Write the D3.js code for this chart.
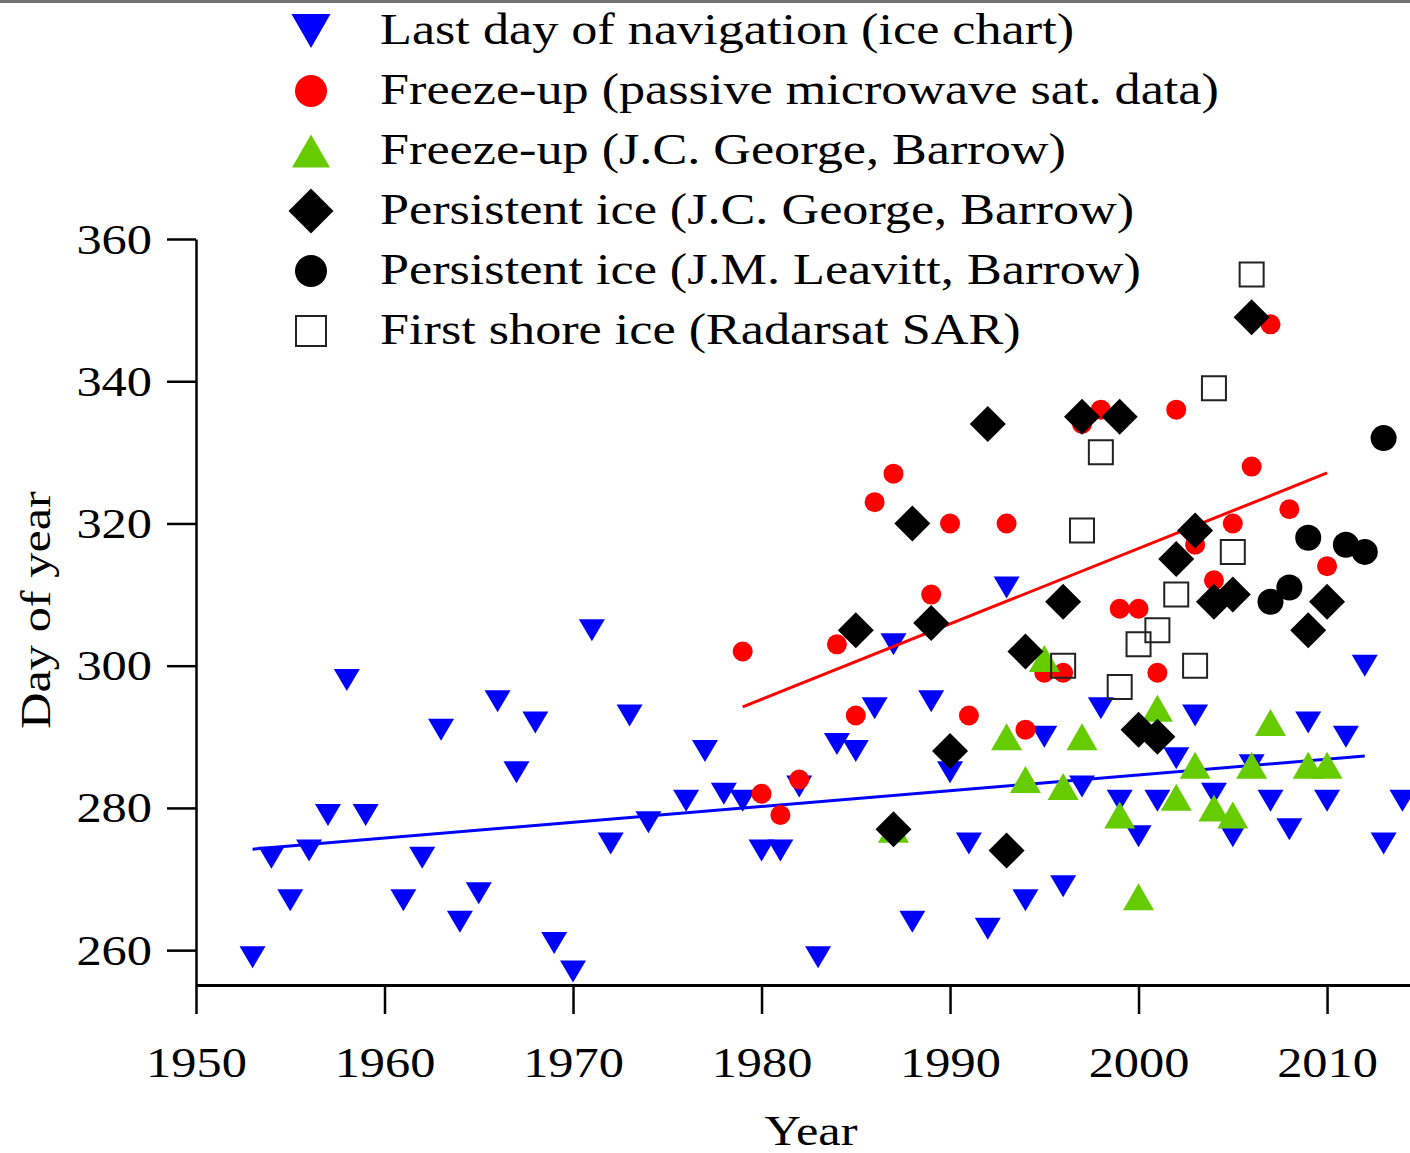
<!DOCTYPE html>
<html>
<head>
<meta charset="utf-8">
<script src="https://cdn.jsdelivr.net/npm/d3@7/dist/d3.min.js"></script>
<style>
  html, body { margin: 0; padding: 0; background: #fff; }
  svg { display: block; }
  text { font-family: "Liberation Serif", "Times New Roman", serif; fill: #000; }
</style>
</head>
<body>
<script>
// ---------------- DATA ----------------
const navYears = [1953,1954,1955,1956,1957,1958,1959,1961,1962,1963,1964,1965,1966,1967,1968,1969,1970,1971,1972,1973,1974,1976,1977,1978,1979,1980,1981,1982,1983,1984,1985,1986,1987,1988,1989,1990,1991,1992,1993,1994,1995,1996,1997,1998,1999,2000,2001,2002,2003,2004,2005,2006,2007,2008,2009,2010,2011,2012,2013,2014];
const navDays = [259,273,267,274,279,298,279,267,273,291,264,268,295,285,292,261,257,305,275,293,278,281,288,282,281,274,274,283,259,289,288,294,303,264,295,285,275,263,311,267,290,269,283,294,281,276,281,287,293,282,276,286,281,277,292,281,290,300,275,281];

const pmYears = [1979,1980,1981,1982,1984,1985,1986,1987,1989,1990,1991,1993,1994,1995,1996,1997,1998,1999,2000,2001,2002,2003,2004,2005,2006,2007,2008,2010];
const pmDays = [302,282,279,284,303,293,323,327,310,320,293,320,291,299,299,334,336,308,308,299,336,317,312,320,328,348,322,314];

const jcgFreezeYears = [1987,1993,1994,1995,1996,1997,1999,2000,2001,2002,2003,2004,2005,2006,2007,2009,2010];
const jcgFreezeDays = [277,290,284,301,283,290,279,267.5,294,281.5,286,280,279,286,292,286,286];

const jcgIceYears = [1985,1987,1988,1989,1990,1992,1993,1994,1996,1997,1999,2000,2001,2002,2003,2004,2005,2006,2009,2010];
const jcgIceDays = [305,277,320,306,288,334,274,302,309,335,335,291,290,315,319,309,310,349,305,309];

const jmlIceYears = [2007,2008,2009,2011,2012,2013];
const jmlIceDays = [309,311,318,317,316,332];

const sarYears = [1996,1997,1998,1999,2000,2001,2002,2003,2004,2005,2006];
const sarDays = [300,319,330,297,303,305,310,300,339,316,355];

const navTrendYears = [1953, 2012];
const navTrendDays = [274.2, 287.3];
const pmTrendYears = [1979, 2010];
const pmTrendDays = [294.2, 327.1];

const xTicks = [1950,1960,1970,1980,1990,2000,2010];
const yTicks = [260,280,300,320,340,360];

const legendLabels = [
  "Last day of navigation (ice chart)",
  "Freeze-up (passive microwave sat. data)",
  "Freeze-up (J.C. George, Barrow)",
  "Persistent ice (J.C. George, Barrow)",
  "Persistent ice (J.M. Leavitt, Barrow)",
  "First shore ice (Radarsat SAR)"
];

// ---------------- SETUP ----------------
const W = 1410, H = 1153;
const FS = 42, SX = 1.2;
const svg = d3.select("body").append("svg").attr("width", W).attr("height", H);

svg.append("rect").attr("x", 0).attr("y", 0).attr("width", W).attr("height", 3).attr("fill", "#707070");

const x = d3.scaleLinear().domain([1950, 2014.4]).range([196, 1410]);
const y = d3.scaleLinear().domain([255.1, 360]).range([985, 239]);

// marker shape paths (centered at 0,0)
const shapes = {
  triDown: (w, h) => `M${-w/2},${-h/2}L${w/2},${-h/2}L0,${h/2}Z`,
  triUp: (w, h) => `M${-w/2},${h/2}L${w/2},${h/2}L0,${-h/2}Z`,
  diamond: (w, h) => `M0,${-h/2}L${w/2},0L0,${h/2}L${-w/2},0Z`,
  square: (w, h) => `M${-w/2},${-h/2}L${w/2},${-h/2}L${w/2},${h/2}L${-w/2},${h/2}Z`
};

function text(g, tx, ty, str, anchor, rot, fs) {
  return g.append("text")
    .attr("transform", `translate(${tx},${ty}) rotate(${rot||0}) scale(${SX},1)`)
    .attr("text-anchor", anchor || "start")
    .attr("font-size", fs || FS)
    .text(str);
}

// ---------------- AXES ----------------
const gx = svg.append("g").attr("transform", "translate(0,985)")
  .call(d3.axisBottom(x).tickValues(xTicks).tickFormat(d3.format("d")).tickSize(29).tickSizeOuter(0));
gx.select(".domain").attr("stroke", "#000").attr("stroke-width", 3);
gx.selectAll(".tick line").attr("stroke", "#000").attr("stroke-width", 2.5);
gx.selectAll(".tick text")
  .attr("x", null).attr("y", null).attr("dy", null)
  .attr("transform", `translate(0,92) scale(${SX},1)`)
  .attr("font-size", FS).attr("font-family", "Liberation Serif").attr("fill", "#000");

const gy = svg.append("g").attr("transform", "translate(196,0)")
  .call(d3.axisLeft(y).tickValues(yTicks).tickFormat(d3.format("d")).tickSize(29).tickSizeOuter(0));
gy.select(".domain").attr("stroke", "#000").attr("stroke-width", 2.5);
gy.selectAll(".tick line").attr("stroke", "#000").attr("stroke-width", 2.5);
gy.selectAll(".tick text")
  .attr("x", null).attr("y", null).attr("dy", null)
  .attr("transform", `translate(-44,14) scale(${SX},1)`)
  .attr("font-size", FS).attr("font-family", "Liberation Serif").attr("fill", "#000");

text(svg, 811, 1145, "Year", "middle");
text(svg, 50, 610, "Day of year", "middle", -90);

// ---------------- MARKS ----------------
const plot = svg.append("g");
function zip(xs, ys) { return xs.map((d, i) => [d, ys[i]]); }

// Last day of navigation
plot.append("g").selectAll("path").data(zip(navYears, navDays)).join("path")
  .attr("d", shapes.triDown(26, 22))
  .attr("transform", d => `translate(${x(d[0])},${y(d[1])})`)
  .attr("fill", "#0000ff");

const line = d3.line().x(d => x(d[0])).y(d => y(d[1]));
plot.append("path").datum(zip(navTrendYears, navTrendDays))
  .attr("d", line).attr("fill", "none").attr("stroke", "#0000ff").attr("stroke-width", 3);

// Freeze-up passive microwave
plot.append("g").selectAll("circle").data(zip(pmYears, pmDays)).join("circle")
  .attr("cx", d => x(d[0])).attr("cy", d => y(d[1])).attr("r", 10)
  .attr("fill", "#ff0000");

plot.append("path").datum(zip(pmTrendYears, pmTrendDays))
  .attr("d", line).attr("fill", "none").attr("stroke", "#ff0000").attr("stroke-width", 3);

// Freeze-up J.C. George
plot.append("g").selectAll("path").data(zip(jcgFreezeYears, jcgFreezeDays)).join("path")
  .attr("d", shapes.triUp(31, 27))
  .attr("transform", d => `translate(${x(d[0])},${y(d[1])})`)
  .attr("fill", "#66cc00");

// Persistent ice J.C. George
plot.append("g").selectAll("path").data(zip(jcgIceYears, jcgIceDays)).join("path")
  .attr("d", shapes.diamond(36, 36))
  .attr("transform", d => `translate(${x(d[0])},${y(d[1])})`)
  .attr("fill", "#000");

// Persistent ice J.M. Leavitt
plot.append("g").selectAll("circle").data(zip(jmlIceYears, jmlIceDays)).join("circle")
  .attr("cx", d => x(d[0])).attr("cy", d => y(d[1])).attr("r", 13)
  .attr("fill", "#000");

// First shore ice
plot.append("g").selectAll("path").data(zip(sarYears, sarDays)).join("path")
  .attr("d", shapes.square(24, 24))
  .attr("transform", d => `translate(${x(d[0])},${y(d[1])})`)
  .attr("fill", "none").attr("stroke", "#222").attr("stroke-width", 2);

// ---------------- LEGEND ----------------
const leg = svg.append("g");
const legendMarkers = [
  { d: shapes.triDown(39, 34), fill: "#0000ff" },
  { circle: 16, fill: "#ff0000" },
  { d: shapes.triUp(38, 33), fill: "#66cc00" },
  { d: shapes.diamond(45, 45), fill: "#000" },
  { circle: 16, fill: "#000" },
  { d: shapes.square(30, 30), fill: "none", stroke: "#222" }
];
legendLabels.forEach((lab, i) => {
  const cy = 31 + 60 * i;
  const m = legendMarkers[i];
  if (m.circle) {
    leg.append("circle").attr("cx", 311).attr("cy", cy).attr("r", m.circle).attr("fill", m.fill);
  } else {
    const p = leg.append("path").attr("d", m.d).attr("transform", `translate(311,${cy})`).attr("fill", m.fill);
    if (m.stroke) p.attr("stroke", m.stroke).attr("stroke-width", 2);
  }
  text(leg, 380, cy + 13, lab, "start", 0, 43.5);
});
</script>
</body>
</html>
